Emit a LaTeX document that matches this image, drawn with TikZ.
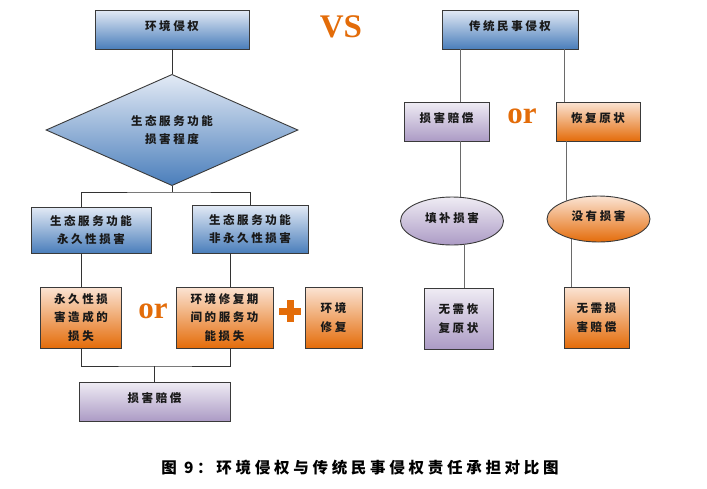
\documentclass[tikz,border=0pt]{standalone}
\usepackage{fontspec}
\setmainfont{Noto Sans CJK SC}
\newfontfamily\latinserif{Liberation Serif}
\usetikzlibrary{shapes.geometric}
\definecolor{bluetop}{HTML}{E3EAF5}
\definecolor{bluebot}{HTML}{4A7EBB}
\definecolor{purtop}{HTML}{EFECF4}
\definecolor{purbot}{HTML}{AC9BC5}
\definecolor{orgtop}{HTML}{FBE4D4}
\definecolor{orgbot}{HTML}{E46C0A}
\definecolor{orgtxt}{HTML}{E36C09}
\definecolor{edge}{HTML}{3A3A3A}
\definecolor{wirec}{HTML}{333333}
\definecolor{wirec2}{HTML}{6A6A6A}
\begin{document}
\begin{tikzpicture}[x=1pt,y=-1pt,
  base/.style={draw=edge, line width=0.9pt, align=center, inner sep=0pt,
    font=\bfseries\fontsize{11.5}{18.5}\selectfont\addfontfeature{LetterSpace=22}, text=black!90},
  up/.style={text depth=7pt},
  bluebox/.style={base, rectangle, top color=bluetop, bottom color=bluebot},
  purbox/.style={base, rectangle, top color=purtop, bottom color=purbot},
  orgbox/.style={base, rectangle, top color=orgtop, bottom color=orgbot},
  purell/.style={base, ellipse, top color=purtop, bottom color=purbot},
  orgell/.style={base, ellipse, top color=orgtop, bottom color=orgbot},
  bluedia/.style={base, diamond, top color=bluetop, bottom color=bluebot},
  ortext/.style={text=orgtxt, font=\latinserif\bfseries\fontsize{31}{31}\selectfont, inner sep=0pt},
  wire/.style={draw=wirec, line width=0.9pt},
  wireb/.style={draw=wirec2, line width=0.9pt}
]
\useasboundingbox (0,0) rectangle (707,488);

% ---------- left: environmental tort ----------
\node[bluebox, up, minimum width=154pt, minimum height=39pt] (env) at (172,29.5) {环境侵权};
\node[bluedia, minimum width=252pt, minimum height=88pt] (dia) at (172,130) {生态服务功能\\损害程度};
\node[bluebox, minimum width=120pt, minimum height=46pt] (perm) at (91,230) {生态服务功能\\永久性损害};
\node[bluebox, minimum width=116pt, minimum height=48pt] (nonperm) at (250,229) {生态服务功能\\非永久性损害};
\node[orgbox, minimum width=81pt, minimum height=61pt] (lossA) at (81,317.5) {永久性损\\害造成的\\损失};
\node[orgbox, minimum width=97pt, minimum height=61pt] (lossB) at (224.5,317.5) {环境修复期\\间的服务功\\能损失};
\node[orgbox, minimum width=57pt, minimum height=61pt] (repair) at (333.5,317.5) {环境\\修复};
\node[purbox, up, minimum width=151pt, minimum height=39pt] (comp) at (154.5,401.5) {损害赔偿};

\node[ortext] (or1) at (153,311) {or};
\node[text=orgtxt, font=\latinserif\bfseries\fontsize{33}{33}\selectfont, inner sep=0pt] (vs) at (341,26.5) {VS};
\fill[orgtxt] (279,307.5) rectangle (301,314.5);
\fill[orgtxt] (286.5,300) rectangle (293.5,322);

\coordinate (j1) at (172,192);
\coordinate (j2) at (154.5,366);
\draw[wire] (env.south) -- (dia.north);
\draw[wire] (dia.south) -- (j1);
\draw[wire] (perm.north -| lossA.north) |- (j1) -| (nonperm.north);
\draw[wire] (lossA.north) -- (lossA.north |- perm.south);
\draw[wire] ([xshift=5.5pt]lossB.north) -- ([xshift=5.5pt]lossB.north |- nonperm.south);
\draw[wire] (lossA.south) |- (j2) -| ([xshift=5.5pt]lossB.south);
\draw[wire] (j2) -- (comp.north);

% ---------- right: traditional civil tort ----------
\node[bluebox, up, minimum width=136pt, minimum height=39pt] (civ) at (510,29.5) {传统民事侵权};
\node[purbox, up, minimum width=85pt, minimum height=39pt] (compR) at (446.5,121.5) {损害赔偿};
\node[orgbox, up, minimum width=84pt, minimum height=39pt] (restore) at (598,121.5) {恢复原状};
\node[ortext] (or2) at (522,116) {or};
\node[purell, up, minimum width=103pt, minimum height=48pt] (fillr) at (452,221) {填补损害};
\node[orgell, up, minimum width=103pt, minimum height=46pt] (nodmg) at (598.5,219) {没有损害};
\node[purbox, minimum width=69pt, minimum height=61pt] (norest) at (458.5,318.5) {无需恢\\复原状};
\node[orgbox, minimum width=65pt, minimum height=61pt] (nocomp) at (596.5,317.5) {无需损\\害赔偿};

\draw[wireb] ([xshift=13.5pt]compR.north) -- ([xshift=13.5pt]compR.north |- civ.south);
\draw[wireb] ([xshift=-34pt]restore.north) -- ([xshift=-34pt]restore.north |- civ.south);
\draw[wireb] ([xshift=8pt]fillr.north) -- ([xshift=8pt]fillr.north |- compR.south);
\draw[wireb] ([xshift=-32.5pt,yshift=-5pt]nodmg.north) -- ([xshift=-32.5pt]nodmg.north |- restore.south);
\draw[wireb] ([xshift=5.5pt]norest.north) -- ([xshift=5.5pt]norest.north |- fillr.south);
\draw[wireb] ([xshift=-25.5pt]nocomp.north) -- ([xshift=-25.5pt,yshift=3.5pt]nocomp.north |- nodmg.south);

% ---------- caption ----------
\node[font=\bfseries\fontsize{15.5}{15.5}\selectfont\addfontfeature{LetterSpace=24}, inner sep=0pt] (cap) at (360,468) {图 9：环境侵权与传统民事侵权责任承担对比图};
\end{tikzpicture}
\end{document}
